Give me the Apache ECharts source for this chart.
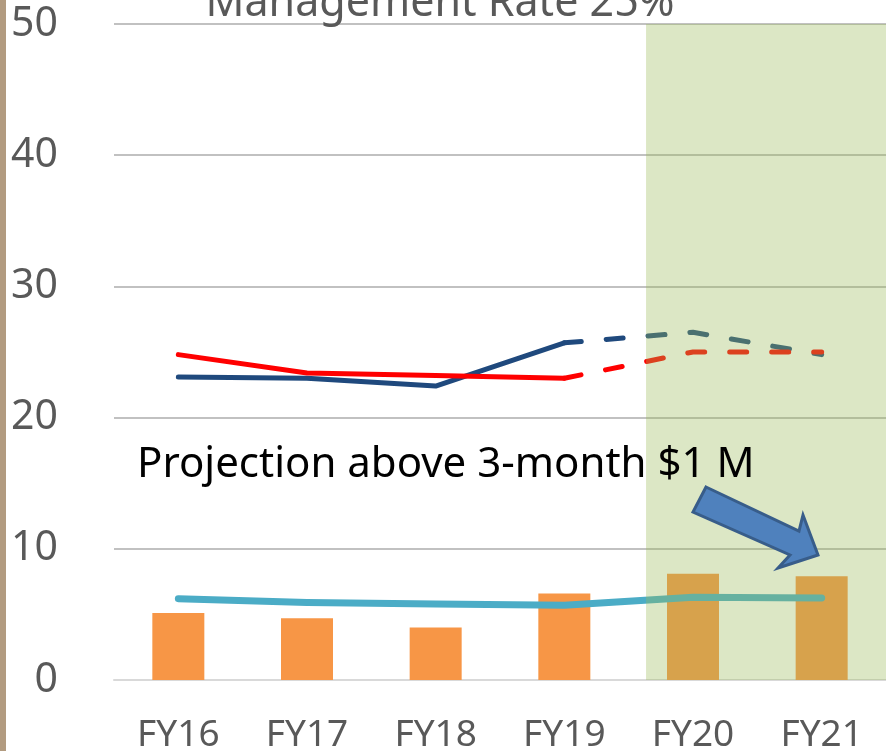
<!DOCTYPE html>
<html>
<head>
<meta charset="utf-8">
<style>
  html, body { margin: 0; padding: 0; background: #ffffff; }
  #chart { width: 886px; height: 751px; }
</style>
<script src="https://cdn.jsdelivr.net/npm/echarts@6/dist/echarts.min.js"></script>
</head>
<body>
<div id="chart"></div>
<script>
// Fiscal years on the horizontal axis
const categories = ['FY16', 'FY17', 'FY18', 'FY19', 'FY20', 'FY21'];
// Y-axis tick labels
const yTicks = [0, 10, 20, 30, 40, 50];

// Bar values
const barValues = [5.1, 4.7, 4.0, 6.6, 8.1, 7.9];
// Light-blue line
const tealValues = [6.2, 5.9, 5.8, 5.7, 6.3, 6.25];
// Red line: actuals and projection
const redActual = [24.8, 23.4, 23.2, 23.0, null, null];
const redProjected = [null, null, null, 23.0, 25.0, 25.0];
// Navy line: actuals and projection
const navyActual = [23.1, 23.0, 22.4, 25.7, null, null];
const navyProjected = [null, null, null, 25.7, 26.5, 24.8];

// Projection period band, in category-band units along the hidden value axis
const projectionBand = [[4.135, 6]];

const chart = echarts.init(document.getElementById('chart'), null, { renderer: 'canvas' });

const FONT = '"Noto Sans", sans-serif';

chart.setOption({
  backgroundColor: '#ffffff',
  animation: false,
  grid: { left: 114, right: 0, top: 24, bottom: 71, containLabel: false, outerBoundsMode: 'none' },
  xAxis: [
    {
      type: 'category',
      data: categories,
      boundaryGap: true,
      axisLine: { show: true, lineStyle: { color: '#D9D9D9', width: 2 } },
      axisTick: { show: false },
      axisLabel: { color: '#595959', fontSize: 37, fontFamily: FONT, margin: 37 },
      splitLine: { show: false }
    },
    {
      type: 'value', min: 0, max: 6, show: false,
      axisLine: { show: false }, splitLine: { show: false }
    }
  ],
  yAxis: {
    type: 'value',
    min: yTicks[0],
    max: yTicks[yTicks.length - 1],
    interval: 10,
    axisLine: { show: false },
    axisTick: { show: false },
    axisLabel: { color: '#595959', fontSize: 41, fontFamily: FONT, margin: 56 },
    splitLine: { lineStyle: { color: '#ADADAD', width: 1.5 } }
  },
  series: [
    {
      type: 'bar',
      data: barValues,
      barWidth: 52,
      itemStyle: { color: '#F79646' }
    },
    {
      type: 'line',
      data: tealValues,
      symbol: 'none',
      lineStyle: { color: '#4BACC6', width: 7, cap: 'round', join: 'round' }
    },
    {
      type: 'line',
      data: navyActual,
      symbol: 'none',
      lineStyle: { color: '#1F497D', width: 5, cap: 'round', join: 'round' }
    },
    {
      type: 'line',
      data: redActual,
      symbol: 'none',
      lineStyle: { color: '#FF0000', width: 5, cap: 'round', join: 'round' }
    },
    {
      type: 'line',
      data: navyProjected,
      symbol: 'none',
      lineStyle: { color: '#1F497D', width: 5, type: [17, 25], cap: 'round', join: 'round' }
    },
    {
      type: 'line',
      data: redProjected,
      symbol: 'none',
      lineStyle: { color: '#FF0000', width: 5, type: [17, 25], cap: 'round', join: 'round' }
    },
    {
      // translucent green band over the projection years
      type: 'custom',
      xAxisIndex: 1,
      yAxisIndex: 0,
      z: 20,
      silent: true,
      data: projectionBand,
      encode: { x: [0, 1] },
      renderItem: function (params, api) {
        const p0 = api.coord([api.value(0), yTicks[yTicks.length - 1]]);
        const p1 = api.coord([api.value(1), yTicks[0]]);
        return {
          type: 'rect',
          shape: { x: p0[0], y: p0[1], width: p1[0] - p0[0], height: p1[1] - p0[1] },
          style: { fill: 'rgba(155,187,89,0.35)' }
        };
      }
    }
  ],
  graphic: [
    {
      // brown edge strip on the left
      type: 'rect', left: 0, top: 0, z: 100,
      shape: { width: 6, height: 751 },
      style: { fill: '#B29B80' }
    },
    {
      type: 'text', z: 100,
      x: 440, y: 4,
      style: {
        text: 'Management Rate 25%',
        fill: '#595959',
        font: '43px ' + FONT,
        textAlign: 'center',
        textVerticalAlign: 'middle'
      }
    },
    {
      type: 'text', z: 100,
      x: 137, y: 465,
      style: {
        text: 'Projection above 3-month $1 M',
        fill: '#000000',
        font: '42px ' + FONT,
        textAlign: 'left',
        textVerticalAlign: 'middle'
      }
    },
    {
      // block arrow pointing at the FY21 bar
      type: 'polygon', z: 100,
      shape: {
        points: [[706, 487], [799, 531], [803, 515], [818, 555], [778, 568], [790, 555], [693, 512]]
      },
      style: { fill: '#4F81BD', stroke: '#385D8A', lineWidth: 3, lineJoin: 'miter' }
    }
  ]
});
</script>
</body>
</html>
